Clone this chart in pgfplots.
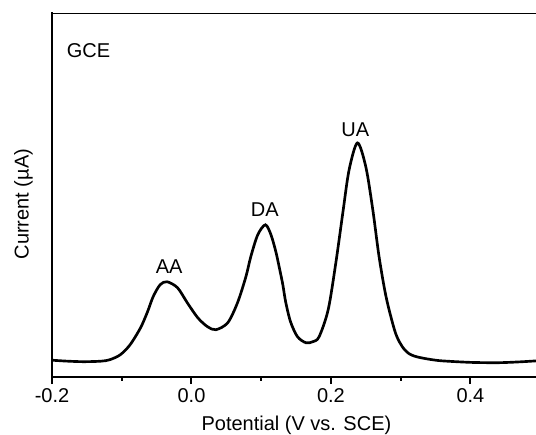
\documentclass[border=0pt]{standalone}
\usepackage{pgfplots}
\pgfplotsset{compat=1.18}
\usepackage{fontspec}
\setmainfont{Liberation Sans}

% Differential pulse voltammogram on the bare glassy carbon electrode
\pgfplotstableread{
E      I
-0.200 1.65
-0.180 1.56
-0.155 1.50
-0.130 1.55
-0.117 1.70
-0.102 2.20
-0.088 3.20
-0.073 4.90
-0.063 6.50
-0.055 8.00
-0.045 9.20
-0.035 9.50
-0.020 8.90
-0.006 7.40
 0.009 5.90
 0.023 5.00
 0.035 4.70
 0.052 5.40
 0.066 7.40
 0.078 10.00
 0.085 12.00
 0.095 14.20
 0.106 15.20
 0.114 14.20
 0.121 12.50
 0.126 10.90
 0.131 9.20
 0.135 7.50
 0.142 5.50
 0.152 4.00
 0.164 3.40
 0.174 3.50
 0.183 4.00
 0.196 6.70
 0.207 11.40
 0.217 16.40
 0.226 20.70
 0.238 23.40
 0.250 21.00
 0.260 16.70
 0.269 12.00
 0.279 8.00
 0.291 4.70
 0.298 3.50
 0.305 2.75
 0.312 2.30
 0.320 2.05
 0.330 1.88
 0.345 1.70
 0.360 1.58
 0.401 1.43
 0.440 1.40
 0.470 1.48
 0.494 1.58
}\dpv

\begin{document}
\begin{tikzpicture}
\begin{axis}[
  name=ax,
  scale only axis,
  width=363pt, height=272.5pt,
  xmin=-0.2, xmax=0.494,
  ymin=0, ymax=36.37,
  axis x line*=bottom, axis y line*=left,
  axis line style={line width=1.7pt, line cap=rect, black},
  tick align=outside,
  major tick length=5.6pt, minor tick length=3pt,
  tick style={line width=1.5pt, black},
  xtick={-0.2,0,0.2,0.4},
  xticklabels={-0.2,0.0,0.2,0.4},
  minor xtick={-0.1,0.1,0.3},
  ytick=\empty,
  /pgf/number format/assume math mode=true,
  every tick label/.append style={font=\fontsize{15}{18}\selectfont},
  label style={font=\fontsize{15}{18}\selectfont},
  xlabel={Potential (V vs. SCE)},
  ylabel={Current (µA)},
  xlabel style={at={([yshift=-40.7pt]axis description cs:0.505,0)}, anchor=base},
  ylabel style={at={([xshift=-17.6pt]axis description cs:0,0.475)}, anchor=base},
  clip=true,
]
\addplot[line width=2pt, black, smooth, no markers] table[x=E, y=I] {\dpv};

\draw[line width=1.7pt, line cap=rect] (rel axis cs:0,1) -- (rel axis cs:1,1);

\node[font=\fontsize{15}{18}\selectfont, anchor=west, inner sep=0pt] at (axis cs:-0.179,32.6) {GCE};
\node[font=\fontsize{15}{18}\selectfont, inner sep=0pt] at (axis cs:-0.032,11.0) {AA};
\node[font=\fontsize{15}{18}\selectfont, inner sep=0pt] at (axis cs:0.105,16.7) {DA};
\node[font=\fontsize{15}{18}\selectfont, inner sep=0pt] at (axis cs:0.235,24.7) {UA};
\end{axis}
\pgfresetboundingbox
\path ([xshift=-39pt,yshift=-43pt]ax.south west) rectangle ([yshift=10pt]ax.north east);
\end{tikzpicture}
\end{document}
